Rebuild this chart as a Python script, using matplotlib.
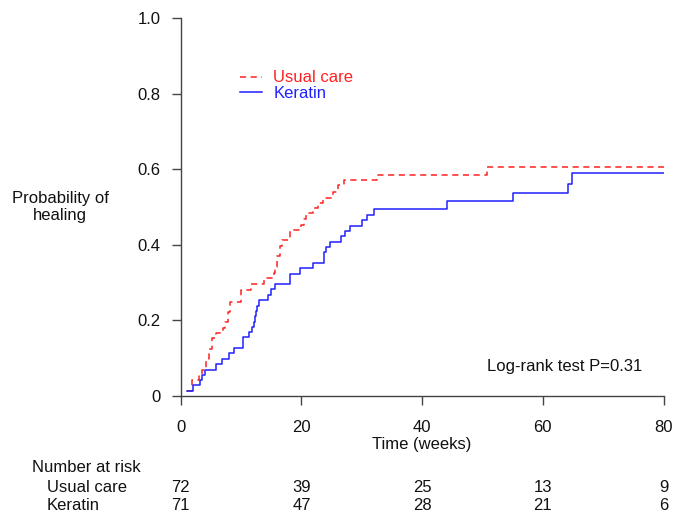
import matplotlib
matplotlib.use("Agg")
import matplotlib.pyplot as plt
import matplotlib.transforms as mtransforms

plt.rcParams['font.family'] = ['Liberation Sans', 'DejaVu Sans']

# Usual care (step start times in weeks, cumulative probability of healing)
usual_t = [1.1, 1.9, 3.0, 3.6, 4.2, 4.7, 5.2, 5.9, 7.0, 7.4, 7.8, 8.2, 10.0, 11.7, 13.8,
           15.4, 15.7, 16.0, 16.4, 16.8, 18.1, 20.0, 20.4, 20.8, 21.9, 22.7, 23.6, 25.2,
           26.0, 27.0, 32.6, 50.7, 80.0]
usual_p = [0.014, 0.042, 0.056, 0.069, 0.097, 0.125, 0.153, 0.167, 0.181, 0.195, 0.222,
           0.250, 0.281, 0.296, 0.311, 0.326, 0.342, 0.370, 0.398, 0.412, 0.439, 0.453,
           0.468, 0.483, 0.498, 0.511, 0.525, 0.540, 0.557, 0.571, 0.585, 0.606, 0.606]

# Keratin
keratin_t = [1.1, 2.0, 3.2, 3.6, 4.1, 5.9, 6.9, 8.0, 8.8, 10.4, 11.3, 11.8, 12.1, 12.3,
             12.5, 12.7, 13.0, 14.5, 14.9, 15.6, 18.1, 19.8, 22.0, 23.7, 24.0, 24.7, 26.6,
             27.2, 28.1, 30.1, 30.8, 32.0, 44.1, 55.0, 64.1, 64.9, 80.0]
keratin_p = [0.014, 0.028, 0.042, 0.056, 0.070, 0.085, 0.099, 0.113, 0.127, 0.155, 0.169,
             0.183, 0.197, 0.211, 0.225, 0.239, 0.253, 0.268, 0.282, 0.296, 0.324, 0.338,
             0.352, 0.380, 0.394, 0.408, 0.423, 0.437, 0.451, 0.466, 0.479, 0.494, 0.515,
             0.536, 0.562, 0.589, 0.589]

x_ticks = [0, 20, 40, 60, 80]
y_ticks = [0, 0.2, 0.4, 0.6, 0.8, 1.0]
y_ticklabels = ["0", "0.2", "0.4", "0.6", "0.8", "1.0"]
risk_usual = [72, 39, 25, 13, 9]
risk_keratin = [71, 47, 28, 21, 6]

W, H = 675, 512
fig = plt.figure(figsize=(W / 100, H / 100), dpi=100)
ax = fig.add_axes([180.7 / W, (H - 396) / H, (663.5 - 180.7) / W, (396 - 18) / H])

ax.step(usual_t, usual_p, where='post', color='#ff2020', lw=1.1,
        dashes=(4.0, 3.0), label='Usual care')
ax.step(keratin_t, keratin_p, where='post', color='#2020ff', lw=1.1, label='Keratin')

ax.set_xlim(0, 80)
ax.set_ylim(0, 1)
for s in ['top', 'right']:
    ax.spines[s].set_visible(False)
for s in ['left', 'bottom']:
    ax.spines[s].set_color('#444444')
    ax.spines[s].set_linewidth(1.0)
ax.set_xticks(x_ticks)
ax.set_yticks(y_ticks)
ax.set_yticklabels(y_ticklabels)
ax.tick_params(axis='both', direction='out', length=6.5, width=1.0, color='#444444',
               labelsize=12, labelcolor='#111111')
ax.tick_params(axis='x', pad=11)
ax.tick_params(axis='y', pad=8)

ax.set_xlabel('Time (weeks)', fontsize=12, color='#111111', labelpad=1)

fig.text(60 / W, 1 - 207 / H, 'Probability of\nhealing', ha='center', va='center',
         fontsize=12, color='#111111', linespacing=1.12)

leg = ax.legend(loc='upper left', bbox_to_anchor=(240 / W, 1 - 70.5 / H),
                bbox_transform=fig.transFigure, frameon=False, fontsize=12,
                labelcolor='linecolor', handlelength=1.3, handletextpad=0.7,
                labelspacing=0.05, borderpad=0, borderaxespad=0)

ax.text(50.7, 0.0775, 'Log-rank test P=0.31', ha='left', va='center', fontsize=12,
        color='#111111')

trans = mtransforms.blended_transform_factory(ax.transData, fig.transFigure)
fig.text(32 / W, 1 - 468 / H, 'Number at risk', ha='left', va='center', fontsize=12,
         color='#111111')
fig.text(47 / W, 1 - 487 / H, 'Usual care', ha='left', va='center', fontsize=12,
         color='#111111')
fig.text(47 / W, 1 - 506 / H, 'Keratin', ha='left', va='center', fontsize=12,
         color='#111111')
for xv, n in zip(x_ticks, risk_usual):
    ax.text(xv, 1 - 487 / H, str(n), transform=trans, ha='center', va='center',
            fontsize=12, color='#111111')
for xv, n in zip(x_ticks, risk_keratin):
    ax.text(xv, 1 - 506 / H, str(n), transform=trans, ha='center', va='center',
            fontsize=12, color='#111111')

fig.savefig('out.png', dpi=100)
